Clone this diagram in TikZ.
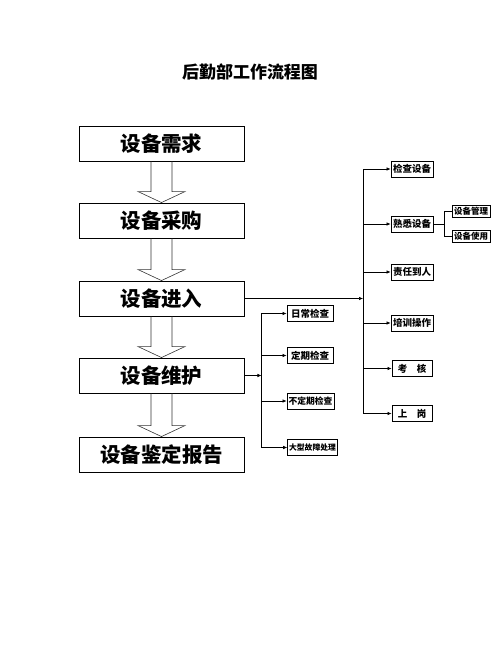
\documentclass[tikz,border=0pt]{standalone}
\usepackage{fontspec}
\newfontfamily\cjk{Noto Sans CJK SC}
\usetikzlibrary{calc,arrows.meta}
\tikzset{
  mainbox/.style={draw=black, line width=0.9pt, minimum width=165pt, minimum height=35pt, inner sep=0pt, font=\cjk\bfseries\fontsize{20.5}{22}\selectfont},
  smallbox/.style={draw=black, line width=0.8pt, minimum height=16pt, inner sep=1.5pt, font=\cjk\bfseries\fontsize{9.5}{10}\selectfont},
  tinybox/.style={draw=black, line width=0.8pt, minimum width=38pt, minimum height=12pt, inner sep=1pt, font=\cjk\bfseries\fontsize{8.5}{9}\selectfont},
  link/.style={line width=0.6pt},
  arr/.style={line width=0.6pt, -{Latex[length=4pt,width=3.5pt]}},
  hollow/.style={line width=0.6pt, draw=black!80}
}
\begin{document}
\begin{tikzpicture}[x=1pt,y=1pt]
\useasboundingbox (0,0) rectangle (502,-649);
\node (title) [font=\cjk\bfseries\fontsize{17}{18}\selectfont] at (250,-72) {后勤部工作流程图};
% main column
\node (b1) [mainbox] at (161.5,-143.5) {设备需求};
\node (b2) [mainbox] at (161.5,-220.5) {设备采购};
\node (b3) [mainbox] at (161.5,-298.5) {设备进入};
\node (b4) [mainbox] at (161.5,-375.5) {设备维护};
\node (b5) [mainbox] at (161.5,-454.5) {设备鉴定报告};
\foreach \a/\b in {b1/b2,b2/b3,b3/b4,b4/b5}
  \draw [hollow] ($(\a.south)+(-10.5,0)$) -- ($(\b.north)+(-10.5,11)$) -- ($(\b.north)+(-23.5,11)$)
    -- (\b.north) -- ($(\b.north)+(23.5,11)$) -- ($(\b.north)+(10.5,11)$) -- ($(\a.south)+(10.5,0)$);
% right column
\node (r1) [smallbox, minimum width=42pt] at (412,-169) {检查设备};
\node (r2) [smallbox, minimum width=42pt] at (412,-224) {熟悉设备};
\node (r3) [smallbox, minimum width=42pt] at (412,-272) {责任到人};
\node (r4) [smallbox, minimum width=42pt] at (412,-323) {培训操作};
\node (r5) [smallbox, minimum width=40pt] at (412,-368.5) {考\hspace{1em}核};
\node (r6) [smallbox, minimum width=40pt] at (412,-413.5) {上\hspace{1em}岗};
\coordinate (rs) at (363,-298.5);
\draw [arr] (b3.east) -- (rs);
\draw [link] (rs |- r1) -- (rs |- r6);
\foreach \n in {r1,r2,r3,r4,r5,r6}
  \draw [arr] (rs |- \n) -- (\n.west);
% sub items
\node (s1) [tinybox] at (471,-211) {设备管理};
\node (s2) [tinybox] at (471,-236.5) {设备使用};
\coordinate (ss) at (444,-224);
\draw [link] (r2.east) -- (ss);
\draw [link] (ss |- s1) -- (ss |- s2);
\draw [link] (ss |- s1) -- (s1.west);
\draw [link] (ss |- s2) -- (s2.west);
% left column
\node (l1) [smallbox, minimum width=46pt] at (310,-313.5) {日常检查};
\node (l2) [smallbox, minimum width=46pt] at (310,-355.5) {定期检查};
\node (l3) [smallbox, minimum width=45pt, font=\cjk\bfseries\fontsize{8.8}{9}\selectfont] at (310.5,-401) {不定期检查};
\node (l4) [smallbox, minimum width=49pt, font=\cjk\bfseries\fontsize{7.8}{8}\selectfont] at (312.5,-447.5) {大型故障处理};
\coordinate (ls) at ($(b4.east)+(17,0)$);
\draw [arr] (b4.east) -- (ls);
\draw [link] (ls |- l1) -- (ls |- l4);
\foreach \n in {l1,l2,l3,l4}
  \draw [arr] (ls |- \n) -- (\n.west);
\end{tikzpicture}
\end{document}
